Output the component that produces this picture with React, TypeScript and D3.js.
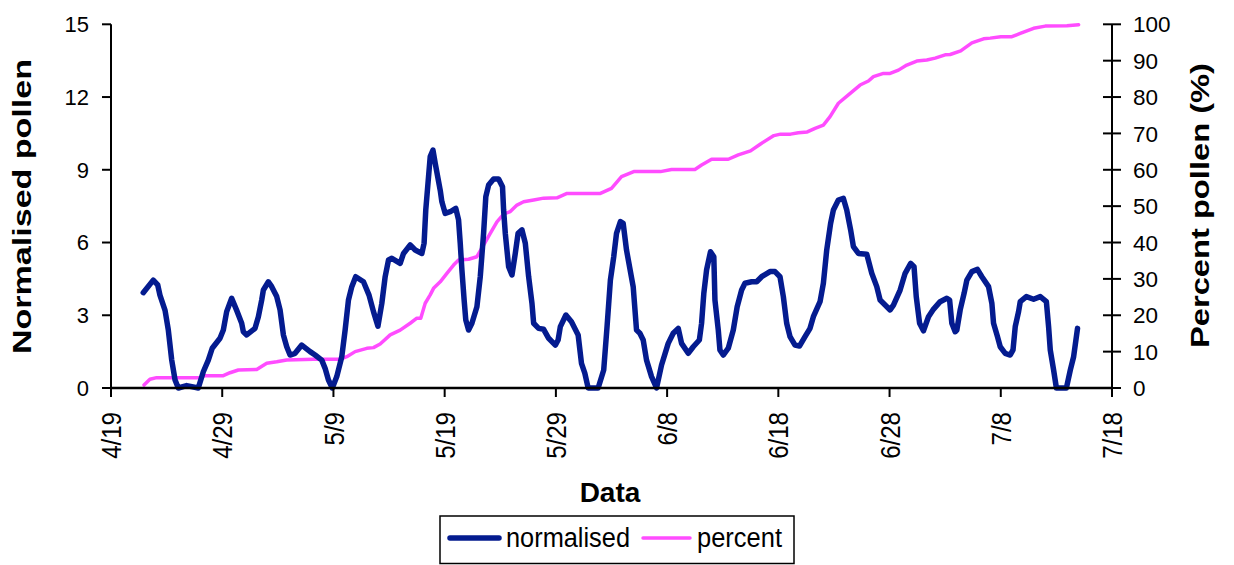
import React from "react";
import * as d3 from "d3";

// ---- data (days after 4/19 and the values) ----
const normDays = [2.9,3.8,4.2,4.4,4.86,5.15,5.46,5.76,6.05,6.8,7.85,8.3,8.75,9.1,9.8,10.1,10.4,10.85,11.3,11.75,11.9,12.2,12.95,13.25,13.55,13.7,14.15,14.45,14.9,15.2,15.5,15.8,16.1,16.55,17.15,17.9,18.35,18.95,19.25,19.55,19.9,20.3,20.75,21.05,21.35,21.65,22.0,22.7,23.2,23.6,24.0,24.35,24.65,24.95,25.25,26.0,26.3,26.9,27.35,27.95,28.15,28.3,28.55,28.7,28.95,29.15,29.6,29.75,30.05,30.5,31.0,31.25,31.4,31.55,31.75,31.9,32.15,32.45,32.9,33.2,33.5,33.7,33.95,34.4,34.85,35.2,35.3,35.45,35.75,36.05,36.35,36.6,36.95,37.25,37.55,37.85,38.0,38.45,38.9,39.35,39.95,40.2,40.4,40.9,41.4,42.0,42.3,42.6,42.9,43.8,44.3,44.6,44.9,45.2,45.45,45.8,46.05,46.35,46.95,47.25,47.55,47.85,48.15,48.6,49.05,49.5,50.1,50.55,51.0,51.3,51.9,52.35,52.9,53.1,53.3,53.55,53.9,54.2,54.3,54.6,54.75,55.05,55.5,55.95,56.3,56.7,57.0,57.6,58.05,58.5,59.25,59.7,60.15,60.45,60.75,61.05,61.5,61.9,62.4,62.85,63.15,63.75,64.05,64.35,64.7,64.95,65.4,65.85,66.15,66.5,66.75,67.2,67.95,68.4,68.85,69.15,70.05,70.35,70.95,71.4,71.9,72.2,72.4,72.7,73.05,73.5,73.9,74.55,75.15,75.4,75.6,75.9,76.05,76.35,76.7,76.95,77.4,77.9,78.3,78.9,79.2,79.35,79.7,79.95,80.4,80.85,81.1,81.3,81.6,81.75,82.3,82.95,83.55,84.1,84.3,84.45,84.75,85.0,85.9,86.25,86.55,86.9];
const normValues = [3.93,4.45,4.25,3.83,3.2,2.4,1.15,0.33,0,0.1,0,0.67,1.15,1.64,2.05,2.39,3.15,3.7,3.2,2.67,2.32,2.19,2.46,2.94,3.63,4.04,4.38,4.18,3.77,3.22,2.19,1.7,1.36,1.43,1.77,1.5,1.36,1.15,0.81,0.33,0,0.47,1.29,2.39,3.63,4.18,4.59,4.38,3.83,3.15,2.55,3.49,4.59,5.28,5.35,5.14,5.55,5.9,5.69,5.55,5.97,7.34,8.71,9.54,9.81,9.27,8.16,7.68,7.2,7.27,7.41,6.93,5.97,4.87,3.63,2.8,2.39,2.67,3.35,4.59,6.38,7.89,8.37,8.62,8.62,8.3,7.34,6.38,5.0,4.66,5.55,6.38,6.52,5.97,4.59,3.49,2.67,2.46,2.42,2.05,1.77,1.98,2.53,3.01,2.73,2.19,1.02,0.61,0,0,0.74,2.53,4.45,5.41,6.38,6.86,6.79,5.69,4.18,2.39,2.26,1.98,1.15,0.47,0,0.95,1.84,2.26,2.46,1.84,1.43,1.7,1.98,2.67,3.9,4.87,5.62,5.41,3.63,2.39,1.57,1.36,1.64,2.39,3.35,4.04,4.32,4.38,4.38,4.59,4.8,4.8,4.59,3.77,2.67,2.12,1.77,1.73,2.12,2.46,2.94,3.56,4.32,5.69,6.79,7.34,7.75,7.82,7.34,6.52,5.83,5.55,5.52,4.73,4.18,3.63,3.22,3.42,4.04,4.73,5.14,5.0,3.77,2.67,2.36,2.94,3.22,3.56,3.7,3.63,2.67,2.32,2.39,3.22,3.9,4.45,4.8,4.89,4.59,4.18,3.49,2.67,2.12,1.7,1.43,1.36,1.57,2.53,3.15,3.56,3.77,3.66,3.77,3.56,2.53,1.57,0.74,0,0,0.74,1.29,2.46];

const pctDays = [2.97,3.5,4.1,8.0,8.45,10.1,10.7,11.45,13.1,14.0,14.9,15.8,18.2,20.6,21.2,21.95,23.0,23.6,24.2,25.1,26.0,26.9,27.5,27.85,28.25,28.7,29.0,29.6,30.2,30.8,31.25,32.15,32.9,33.5,34.1,34.7,35.3,35.9,36.5,37.1,38.0,38.9,40.1,41.0,44.0,45.0,45.9,47.0,49.4,50.4,52.5,53.1,54.0,55.5,56.4,57.5,58.4,59.6,60.2,61.1,61.8,62.6,63.3,64.05,64.65,65.4,66.3,67.35,68.1,68.55,69.45,70.05,70.8,71.55,72.45,73.35,74.1,75.0,75.45,76.4,77.4,78.45,79.05,80.0,81.0,81.75,82.95,84.0,85.95,87.0];
const pctValues = [0.8,2.4,2.85,2.85,3.4,3.4,4.2,4.95,5.1,6.8,7.2,7.7,7.9,7.9,8.6,10.0,10.9,11.1,12.1,14.6,15.9,17.8,19.2,19.2,23.3,25.6,27.4,29.2,31.5,33.8,35.2,35.4,36.1,39.3,42.5,45.7,47.8,48.5,50.3,51.2,51.7,52.2,52.3,53.5,53.5,54.9,58.1,59.5,59.5,60.1,60.1,61.3,62.9,62.9,64.1,65.2,67.1,69.4,69.8,69.8,70.2,70.4,71.4,72.3,74.6,78.3,80.6,83.3,84.4,85.6,86.5,86.5,87.4,88.8,89.9,90.2,90.7,91.6,91.7,92.7,94.9,96.0,96.2,96.6,96.6,97.5,98.9,99.5,99.6,99.9];

const xTickLabels = ["4/19", "4/29", "5/9", "5/19", "5/29", "6/8", "6/18", "6/28", "7/8", "7/18"];
const leftTicks = [0, 3, 6, 9, 12, 15];
const rightTicks = [0, 10, 20, 30, 40, 50, 60, 70, 80, 90, 100];

const START = new Date(2000, 3, 19);
const dayToDate = (d: number) => new Date(START.getTime() + d * 86400000);

const FONT = "'Liberation Sans', Arial, sans-serif";
const BLUE = "#041b8f";
const PINK = "#ff4cff";

export default function App() {
  const L = 111, R = 1112, T = 24.3, B = 388;
  const x = d3.scaleTime().domain([START, dayToDate(90)]).range([L, R]);
  const yL = d3.scaleLinear().domain([0, 15]).range([B, T]);
  const yR = d3.scaleLinear().domain([0, 100]).range([B, T]);

  const normData = normDays.map((d, i) => ({ date: dayToDate(d), v: normValues[i] }));
  const pctData = pctDays.map((d, i) => ({ date: dayToDate(d), v: pctValues[i] }));

  const normLine = d3.line<{ date: Date; v: number }>().x(d => x(d.date)).y(d => yL(d.v));
  const pctLine = d3.line<{ date: Date; v: number }>().x(d => x(d.date)).y(d => yR(d.v));

  const xTicks = xTickLabels.map((lab, i) => ({ lab, date: d3.timeDay.offset(START, i * 10) }));

  return (
    <svg width={1234} height={565} style={{ position: "absolute", left: 0, top: 0 }} fontFamily={FONT}>
      <rect width={1234} height={565} fill="#fff" />
      {/* series */}
      <path d={pctLine(pctData) || ""} fill="none" stroke={PINK} strokeWidth={3.5} strokeLinejoin="round" strokeLinecap="round" />
      <path d={normLine(normData) || ""} fill="none" stroke={BLUE} strokeWidth={5.5} strokeLinejoin="round" strokeLinecap="round" />

      {/* axes lines */}
      <line x1={L} x2={L} y1={T} y2={B} stroke="#000" strokeWidth={2} />
      <line x1={R} x2={R} y1={T} y2={B} stroke="#000" strokeWidth={2} />
      <line x1={L - 1} x2={R + 1} y1={B} y2={B} stroke="#000" strokeWidth={2.5} />

      {/* left ticks */}
      {leftTicks.map(t => (
        <g key={"l" + t}>
          <line x1={L - 9} x2={L} y1={yL(t)} y2={yL(t)} stroke="#000" strokeWidth={2} />
          <text x={89} y={yL(t)} dy="0.36em" textAnchor="end" fontSize={22} fill="#000">{t}</text>
        </g>
      ))}
      {/* right ticks */}
      {rightTicks.map(t => (
        <g key={"r" + t}>
          <line x1={R - 9} x2={R + 9} y1={yR(t)} y2={yR(t)} stroke="#000" strokeWidth={2} />
          <text x={1133} y={yR(t)} dy="0.36em" textAnchor="start" fontSize={22.5} fill="#000">{t}</text>
        </g>
      ))}
      {/* bottom ticks */}
      {xTicks.map(t => (
        <g key={t.lab}>
          <line x1={x(t.date)} x2={x(t.date)} y1={B} y2={B + 9} stroke="#000" strokeWidth={2} />
          <text
            transform={`translate(${x(t.date)},412) rotate(-90) scale(0.86,1)`}
            dy="0.36em"
            textAnchor="end"
            fontSize={28}
            fill="#000"
          >
            {t.lab}
          </text>
        </g>
      ))}

      {/* axis titles */}
      <text x={610} y={502} textAnchor="middle" fontSize={28} fontWeight="bold" fill="#000">Data</text>
      <text
        transform="translate(31,206.5) rotate(-90)"
        textAnchor="middle"
        fontSize={25}
        fontWeight="bold"
        fill="#000"
        textLength={295}
        lengthAdjust="spacingAndGlyphs"
      >
        Normalised pollen
      </text>
      <text
        transform="translate(1209,205.5) rotate(-90)"
        textAnchor="middle"
        fontSize={26}
        fontWeight="bold"
        fill="#000"
        textLength={285}
        lengthAdjust="spacingAndGlyphs"
      >
        Percent pollen (%)
      </text>

      {/* legend */}
      <rect x={440} y={516} width={354} height={47.5} fill="#fff" stroke="#000" strokeWidth={1.5} />
      <line x1={450} x2={499} y1={538} y2={538} stroke={BLUE} strokeWidth={5.5} strokeLinecap="round" />
      <text x={506} y={546.5} fontSize={27} fill="#000" textLength={124} lengthAdjust="spacingAndGlyphs">normalised</text>
      <line x1={643} x2={690} y1={538} y2={538} stroke={PINK} strokeWidth={3.5} strokeLinecap="round" />
      <text x={697} y={546.5} fontSize={27} fill="#000" textLength={85} lengthAdjust="spacingAndGlyphs">percent</text>
    </svg>
  );
}
